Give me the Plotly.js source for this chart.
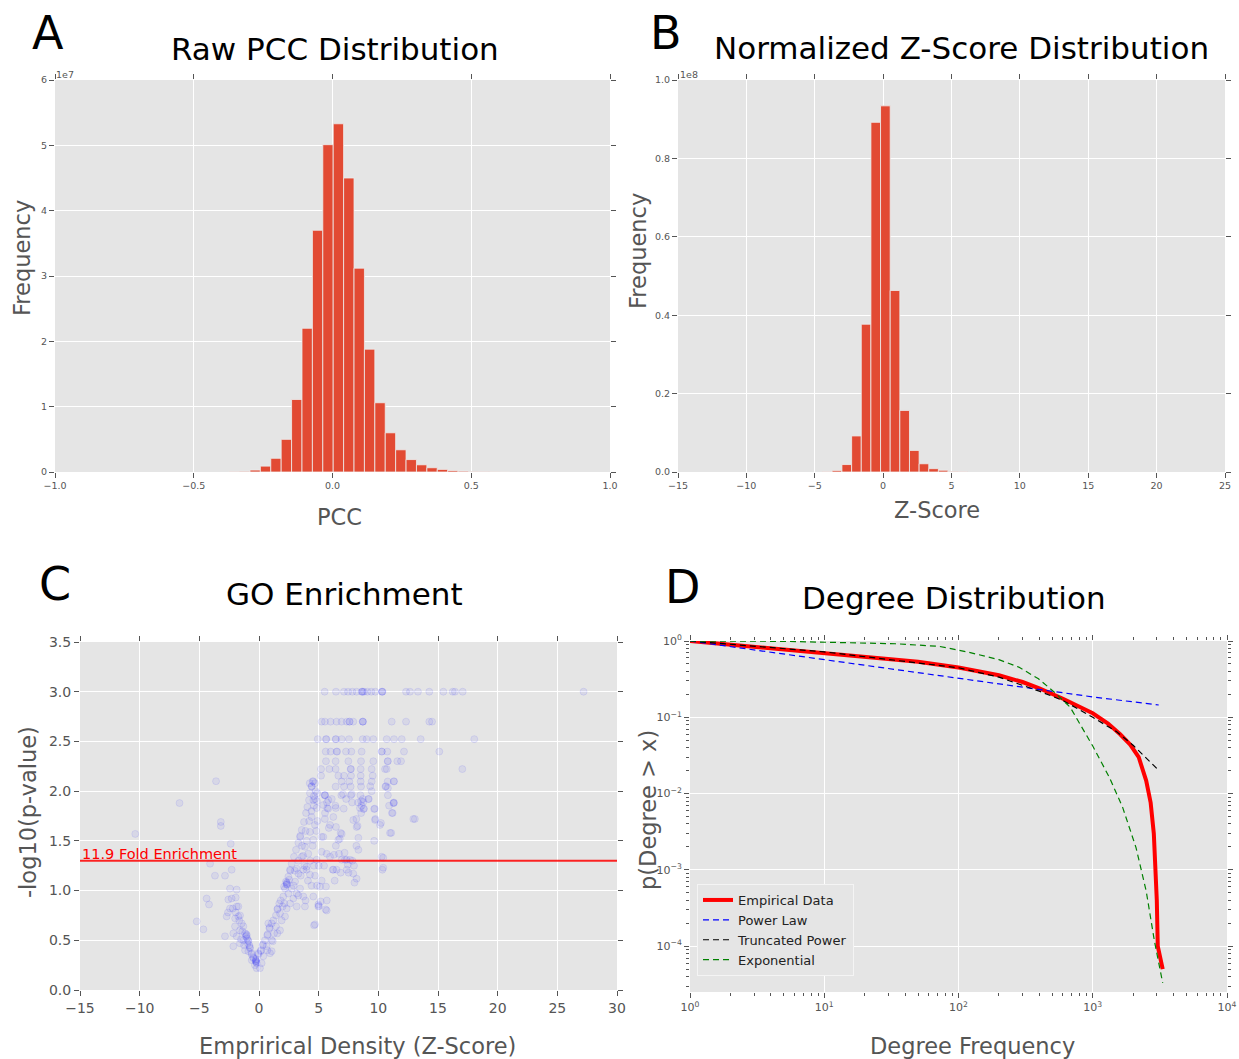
<!DOCTYPE html>
<html><head><meta charset="utf-8">
<script src="https://cdn.plot.ly/plotly-3.0.1.min.js"></script>
<style>html,body{margin:0;padding:0;background:#fff;}#chart{width:1239px;height:1059px;}</style>
</head><body><div id="chart"></div>
<script>
// ---------- Panel A: raw PCC histogram (frequency in units of 1e7) ----------
const pccCenters = [-0.3537,-0.3162,-0.2787,-0.2412,-0.2037,-0.1662,-0.1287,-0.0912,-0.0537,-0.0162,0.0213,0.0588,0.0963,0.1338,0.1713,0.2088,0.2463,0.2838,0.3213,0.3588,0.3963,0.4338,0.4713,0.5088,0.5463,0.5838,0.6213];
const pccFreq = [0.004,0.01,0.03,0.09,0.21,0.5,1.11,2.2,3.7,5.01,5.33,4.5,3.12,1.88,1.06,0.6,0.34,0.19,0.11,0.065,0.04,0.022,0.013,0.008,0.004,0.002,0.001];
const pccBinWidth = 0.0375;

// ---------- Panel B: Z-score histogram (frequency in units of 1e8) ----------
const zCenters = [-4.08,-3.38,-2.66,-1.95,-1.245,-0.54,0.165,0.87,1.575,2.28,2.985,3.69,4.395,5.1,5.8];
const zFreq = [0.001,0.004,0.019,0.092,0.377,0.892,0.934,0.463,0.157,0.055,0.021,0.0085,0.0045,0.0015,0.0007];
const zBinWidth = 0.705;

// ---------- Panel C: GO enrichment scatter [z-score, -log10(p)] ----------
const goPoints = [
 // p = 0.001 row
 [5.5,3.0],[6.45,3.0],[7.12,3.0],[7.46,3.0],[7.82,3.0],[8.18,3.0],[8.6,3.0],[8.65,3.0],[8.7,3.0],[8.8,3.0],[9.08,3.0],[9.41,3.0],[9.75,3.0],[10.31,3.0],[10.31,3.0],[10.35,3.0],[12.32,3.0],[12.65,3.0],[13.32,3.0],[14.27,3.0],[15.45,3.0],[16.23,3.0],[16.42,3.0],[17.07,3.0],[27.2,3.0],
 // p = 0.002
 [5.25,2.699],[5.53,2.699],[6.0,2.699],[6.5,2.699],[6.92,2.699],[7.35,2.699],[7.57,2.699],[7.6,2.699],[7.9,2.699],[8.69,2.699],[8.69,2.699],[8.72,2.699],[11.12,2.699],[12.32,2.699],[14.27,2.699],[14.5,2.699],
 // p = 0.003
 [4.92,2.523],[5.61,2.523],[5.65,2.523],[6.42,2.523],[6.45,2.523],[6.93,2.523],[7.54,2.523],[8.69,2.523],[9.02,2.523],[9.58,2.523],[10.7,2.523],[11.31,2.523],[11.96,2.523],[13.55,2.523],[18.04,2.523],
 // p = 0.004
 [5.59,2.398],[6.0,2.398],[6.5,2.398],[6.55,2.398],[7.29,2.398],[7.74,2.398],[8.6,2.398],[10.28,2.398],[10.3,2.398],[10.75,2.398],[12.15,2.398],[15.11,2.398],
 // p = 0.005
 [5.61,2.301],[6.42,2.301],[7.49,2.301],[8.55,2.301],[9.58,2.301],[10.78,2.301],[10.8,2.301],[11.59,2.301],[11.9,2.301],
 // p = 0.006
 [5.2,2.222],[5.9,2.222],[6.42,2.222],[7.68,2.222],[7.7,2.222],[8.52,2.222],[9.44,2.222],[10.56,2.222],[10.7,2.222],[17.04,2.222],
 // p = 0.007 .. 0.015
 [5.2,2.155],[6.65,2.155],[7.12,2.155],[7.71,2.155],[8.52,2.155],[9.53,2.155],
 [4.55,2.097],[6.93,2.097],[7.57,2.097],[8.52,2.097],[9.44,2.097],[10.78,2.097],[11.31,2.097],
 [4.41,2.046],[6.42,2.046],[7.12,2.046],[7.68,2.046],[8.55,2.046],[10.6,2.046],
 [5.5,1.959],[5.52,1.959],[5.55,1.959],[6.9,1.959],[7.7,1.959],[8.5,1.959],[10.8,1.959],
 [4.7,1.921],[6.1,1.921],[7.3,1.921],[8.7,1.921],[9.2,1.921],
 [5.7,1.886],[7.8,1.886],[8.3,1.886],[11.3,1.886],
 [4.6,1.854],[6.4,1.854],[8.6,1.854],[10.9,1.854],
 [5.8,1.824],[7.1,1.824],[8.8,1.824],[9.7,1.824],
 // right arm (dense)
 [-0.25,0.29],[-0.25,0.29],[-0.27,0.3],[-0.23,0.28],[-0.25,0.31],[-0.2,0.27],
 [-0.06,0.37],[-0.04,0.36],[0.14,0.39],[0.16,0.4],[0.31,0.45],[0.33,0.46],[0.5,0.5],[0.7,0.55],[0.72,0.56],
 [0.87,0.62],[0.89,0.63],[1.06,0.67],[1.2,0.7],[1.42,0.75],[1.54,0.81],[1.56,0.82],[1.7,0.87],[1.82,0.9],
 [2.04,0.94],[2.18,1.02],[2.32,1.07],[2.34,1.08],[2.3,1.06],[2.46,1.14],[2.6,1.21],[2.62,1.2],[2.74,1.27],
 [2.93,1.34],[3.1,1.41],[3.3,1.48],[3.44,1.54],[3.46,1.55],[3.58,1.61],[3.77,1.69],[3.94,1.78],[4.05,1.84],
 [4.19,1.91],[4.27,1.98],[4.41,2.05],[4.5,2.1],
 [2.26,1.09],[2.37,1.06],[2.1,1.04],[2.54,1.11],
 [0.64,0.44],[0.92,0.37],[1.06,0.5],[1.26,0.57],[0.78,0.67],[1.42,0.64],[1.76,0.6],[1.9,0.7],[2.18,0.74],
 [2.32,0.82],[2.6,0.87],[2.88,0.92],[3.16,0.97],[3.44,1.02],[2.46,0.97],[2.74,1.02],[3.02,1.09],[3.3,1.17],
 [3.72,1.21],[3.99,1.24],[3.58,1.34],[4.13,1.37],[3.85,1.44],[4.55,1.51],[4.27,1.59],[4.69,1.66],[4.41,1.74],
 [4.83,1.83],[4.55,1.91],[4.89,1.98],[4.69,2.08],[1.76,0.77],[1.98,0.84],[2.12,0.87],[3.16,0.84],[3.72,0.94],
 [3.85,0.84],[4.55,0.94],[4.61,0.65],[4.97,0.86],[5.11,1.04],[3.16,1.22],[4.27,1.16],[5.25,1.39],[4.83,1.31],
 [5.67,1.37],[5.39,1.54],[3.99,1.21],[1.54,0.57],[1.15,0.49],[0.7,0.4],[0.36,0.34],[0.22,0.27],[0.08,0.22],[1.06,0.39],
 [3.6,1.45],[3.9,1.6],[4.2,1.7],[4.4,1.8],[4.6,1.95],[4.0,1.5],[3.3,1.3],[3.7,1.35],[4.5,1.45],[4.8,1.6],
 [4.9,1.7],[3.8,1.25],[4.3,1.3],[4.6,1.25],[4.1,1.1],[3.5,1.15],[3.0,1.2],[2.9,1.05],[3.3,0.95],[3.9,0.9],
 [4.4,1.05],[4.7,1.15],[5.0,1.25],[4.75,2.0],[4.85,1.9],[4.25,2.08],
 // left arm
 [-0.47,0.32],[-0.49,0.33],[-0.61,0.37],[-0.63,0.36],[-0.75,0.42],[-0.77,0.43],[-0.89,0.49],[-0.91,0.5],
 [-1.03,0.55],[-1.05,0.56],[-1.17,0.57],[-1.31,0.5],[-1.59,0.47],[-1.87,0.54],[-2.15,0.44],[-2.01,0.64],
 [-1.73,0.74],[-1.59,0.75],[-1.87,0.84],[-2.43,0.82],[-2.71,0.74],[-2.57,0.91],[-2.29,0.92],[-1.87,1.01],
 [-2.43,1.02],[-2.85,1.15],[-3.69,1.15],[-2.29,1.21],[-4.1,1.27],[-2.37,1.47],[-3.2,1.69],[-3.2,1.65],
 [-3.6,2.1],[-4.39,0.92],[-4.19,0.86],[-5.22,0.69],[-4.66,0.61],[-2.85,0.54],[-2.15,0.57],[-1.45,0.67],
 [-1.31,0.64],[-1.59,0.6],[-0.89,0.39],[-0.34,0.25],[-0.2,0.22],[-0.61,0.3],[-1.17,0.4],[-1.73,0.84],
 [-1.0,0.52],[-0.95,0.47],[-1.1,0.54],[-0.8,0.45],[-1.4,0.59],[-1.65,0.7],[-1.95,0.78],[-2.2,0.82],
 [-2.0,0.72],[-1.5,0.51],[-1.25,0.45],[-2.6,0.78],[-1.95,0.93],
 [-10.37,1.57],[-6.66,1.88],
 // scatter to the right of the arm
 [4.85,1.05],[5.02,0.845],[5.58,0.81],[5.68,0.9],[4.69,0.66],[5.25,1.1],[5.45,1.25],[6.28,1.36],[6.44,1.45],
 [6.77,1.52],[6.84,1.58],[5.85,1.63],[5.52,1.72],[5.72,1.83],[6.44,1.83],[7.04,1.97],[7.77,1.97],
 [8.56,1.9],[8.76,1.82],[8.56,1.78],[8.16,1.72],[8.26,1.65],[8.33,1.41],[7.17,1.38],[7.34,1.31],[7.44,1.26],
 [6.84,1.18],[6.34,1.1],[6.18,1.21],[8.0,1.08],[7.5,1.18],[9.65,1.5],[9.65,1.82],[9.75,1.72],[10.22,1.68],
 [10.41,1.33],[10.41,1.23],[11.08,1.58],[11.14,1.78],[11.3,1.88],[11.3,2.1],[10.8,2.03],[10.64,2.05],
 [13.06,1.72],[9.16,1.92],[9.32,2.05],[8.33,1.53],[8.16,1.45],[7.83,1.3],
 [5.25,1.54],[5.95,1.66],[6.23,1.74],[6.65,1.51],[6.93,1.57],[5.53,1.78],[5.39,1.86],[5.81,1.91],[6.45,1.64],
 [7.9,1.71],[8.18,1.64],[8.46,1.83],[8.74,1.89],[9.44,2.0],[9.72,1.71],[10.14,1.66],[10.98,1.58],[11.26,1.88],
 [11.2,1.78],[12.93,1.72],[10.28,1.34],[10.34,1.21],[7.9,1.17],[8.18,1.12],[7.35,1.21],[6.93,1.31],[6.5,1.21],
 [6.23,1.21],[5.95,1.34],[5.61,1.04],[5.67,0.8],[4.97,0.84],[5.17,0.89],[7.2,1.31],[7.63,1.31],[7.96,1.25],[6.7,1.37]
];
const enrichThreshold = 1.301;
const enrichLabel = '11.9 Fold Enrichment';

// ---------- Panel D: degree distribution (CCDF) ----------
const empDegree = [1,2,5,10,20,50,100,200,300,400,600,800,1000,1300,1600,1900,2200,2500,2700,2850,2950,3000,3050,3320];
const empP      = [1,0.895,0.79,0.70,0.63,0.535,0.45,0.355,0.29,0.24,0.175,0.138,0.113,0.083,0.06,0.044,0.030,0.0148,0.0076,0.0030,0.001,0.0004,0.0001,0.00005];
const powDegree = [1,10,100,1000,3100];
const powP      = [1,0.57,0.32,0.185,0.145];
const truncDegree = [1,10,100,200,400,600,1000,1500,2000,2500,3080];
const truncP      = [1,0.72,0.446,0.336,0.22,0.166,0.1,0.065,0.043,0.0297,0.0204];
const expDegree = [1,5,34,72,116,200,281,394,517,678,1000,1330,1670,2100,2500,2880,3320];
const expP      = [1,0.99,0.92,0.85,0.72,0.57,0.455,0.32,0.214,0.136,0.042,0.0163,0.0066,0.00196,0.00053,0.000117,0.000033];

const logTickVals = [1,10,100,1000,10000];
const logTickText = ['10<sup>0</sup>','10<sup>1</sup>','10<sup>2</sup>','10<sup>3</sup>','10<sup>4</sup>'];
const pTickVals = [0.0001,0.001,0.01,0.1,1];
const pTickText = ['10<sup>\u22124</sup>','10<sup>\u22123</sup>','10<sup>\u22122</sup>','10<sup>\u22121</sup>','10<sup>0</sup>'];

// ---------- layout helpers ----------
const W = 1239, H = 1059;
const FONT = 'DejaVu Sans, Verdana, sans-serif';
const PX = v => v / W;
const PY = v => 1 - v / H;
const BAR = '#E24A33';

const baseAxis = {
  showgrid: true, gridcolor: '#FFFFFF', gridwidth: 1, zeroline: false, showline: false,
  ticks: 'outside', ticklen: 5, tickwidth: 1, tickcolor: '#555555', mirror: 'ticks',
  tickfont: {family: FONT, size: 9.5, color: '#555555'}, fixedrange: true
};

const traces = [
  {type: 'bar', x: pccCenters, y: pccFreq, width: pccBinWidth, xaxis: 'x', yaxis: 'y',
   marker: {color: BAR, line: {color: '#EEEEEE', width: 0.8}}, showlegend: false, hoverinfo: 'x+y'},
  {type: 'bar', x: zCenters, y: zFreq, width: zBinWidth, xaxis: 'x2', yaxis: 'y2',
   marker: {color: BAR, line: {color: '#EEEEEE', width: 0.8}}, showlegend: false, hoverinfo: 'x+y'},
  {type: 'scatter', mode: 'markers', x: goPoints.map(p => p[0]), y: goPoints.map(p => p[1]),
   xaxis: 'x3', yaxis: 'y3', showlegend: false,
   marker: {size: 7, color: 'rgba(0,0,255,0.06)', line: {color: 'rgba(0,0,255,0.08)', width: 1}}},
  {type: 'scatter', mode: 'lines', name: 'Empirical Data', x: empDegree, y: empP, xaxis: 'x4', yaxis: 'y4',
   line: {color: '#FF0000', width: 4}},
  {type: 'scatter', mode: 'lines', name: 'Power Law', x: powDegree, y: powP, xaxis: 'x4', yaxis: 'y4',
   line: {color: '#0000FF', width: 1.2, dash: '6px,4px'}},
  {type: 'scatter', mode: 'lines', name: 'Truncated Power', x: truncDegree, y: truncP, xaxis: 'x4', yaxis: 'y4',
   line: {color: '#000000', width: 1.2, dash: '6px,4px'}},
  {type: 'scatter', mode: 'lines', name: 'Exponential', x: expDegree, y: expP, xaxis: 'x4', yaxis: 'y4',
   line: {color: '#008000', width: 1.2, dash: '6px,4px'}}
];

function ann(text, x, y, size, opts) {
  return Object.assign({text: text, x: PX(x), y: PY(y), xref: 'paper', yref: 'paper',
    xanchor: 'center', yanchor: 'middle', showarrow: false,
    font: {family: FONT, size: size, color: '#000000'}}, opts || {});
}
const LAB = '#555555';

const layout = {
  width: W, height: H, margin: {l: 0, r: 0, t: 0, b: 0},
  paper_bgcolor: '#FFFFFF', plot_bgcolor: '#E5E5E5', bargap: 0,
  font: {family: FONT},
  xaxis: Object.assign({}, baseAxis, {domain: [PX(55), PX(610)], range: [-1, 1], dtick: 0.5, tick0: 0, tickformat: '.1f', anchor: 'y'}),
  yaxis: Object.assign({}, baseAxis, {domain: [PY(472), PY(80)], range: [0, 6], dtick: 1, tick0: 0, anchor: 'x'}),
  xaxis2: Object.assign({}, baseAxis, {domain: [PX(678), PX(1225)], range: [-15, 25], dtick: 5, tick0: 0, anchor: 'y2'}),
  yaxis2: Object.assign({}, baseAxis, {domain: [PY(472), PY(80)], range: [0, 1.0], dtick: 0.2, tick0: 0, tickformat: '.1f', anchor: 'x2'}),
  xaxis3: Object.assign({}, baseAxis, {domain: [PX(80), PX(617)], range: [-15, 30], dtick: 5, tick0: 0, anchor: 'y3',
    tickfont: {family: FONT, size: 14, color: LAB}}),
  yaxis3: Object.assign({}, baseAxis, {domain: [PY(990), PY(642)], range: [0, 3.5], dtick: 0.5, tick0: 0, tickformat: '.1f', anchor: 'x3',
    tickfont: {family: FONT, size: 14, color: LAB}}),
  xaxis4: Object.assign({}, baseAxis, {domain: [PX(690), PX(1227)], type: 'log', range: [0, 4], anchor: 'y4',
    tickmode: 'array', tickvals: logTickVals, ticktext: logTickText, tickfont: {family: FONT, size: 11, color: LAB},
    minor: {ticks: 'outside', ticklen: 3, tickcolor: '#555555', dtick: 'D1', showgrid: false}}),
  yaxis4: Object.assign({}, baseAxis, {domain: [PY(992), PY(641)], type: 'log', range: [-4.6, 0], anchor: 'x4',
    tickmode: 'array', tickvals: pTickVals, ticktext: pTickText, tickfont: {family: FONT, size: 11, color: LAB},
    minor: {ticks: 'outside', ticklen: 3, tickcolor: '#555555', dtick: 'D1', showgrid: false}}),
  legend: {x: PX(697), y: PY(884), xanchor: 'left', yanchor: 'top', bgcolor: '#E5E5E5',
    bordercolor: '#F4F4F4', borderwidth: 1, font: {family: FONT, size: 13, color: '#222222'},
    tracegroupgap: 0, itemwidth: 30},
  shapes: [
    {type: 'line', xref: 'x3 domain', yref: 'y3', x0: 0, x1: 1, y0: enrichThreshold, y1: enrichThreshold,
     line: {color: 'rgba(255,0,0,0.85)', width: 2}}
  ],
  annotations: [
    ann('A', 48, 33, 46), ann('B', 666, 33, 46), ann('C', 55, 584, 46), ann('D', 682, 587, 46),
    ann('Raw PCC Distribution', 335, 49, 31),
    ann('Normalized Z-Score Distribution', 961, 48, 31),
    ann('GO Enrichment', 344, 594, 31),
    ann('Degree Distribution', 954, 598, 31),
    ann('Frequency', 22, 258, 22.5, {textangle: -90, font: {family: FONT, size: 22.5, color: LAB}}),
    ann('PCC', 339, 517, 22.5, {font: {family: FONT, size: 22.5, color: LAB}}),
    ann('Frequency', 638, 251, 22.5, {textangle: -90, font: {family: FONT, size: 22.5, color: LAB}}),
    ann('Z-Score', 937, 510, 22.5, {font: {family: FONT, size: 22.5, color: LAB}}),
    ann('-log10(p-value)', 28, 812, 22.5, {textangle: -90, font: {family: FONT, size: 22.5, color: LAB}}),
    ann('Emprirical Density (Z-Score)', 357, 1046, 22.5, {font: {family: FONT, size: 22.5, color: LAB}}),
    ann('p(Degree &gt; x)', 648, 810, 22.5, {textangle: -90, font: {family: FONT, size: 22.5, color: LAB}}),
    ann('Degree Frequency', 972, 1046, 22.5, {font: {family: FONT, size: 22.5, color: LAB}}),
    ann('1e7', 54, 74, 9.5, {xanchor: 'left', font: {family: FONT, size: 9.5, color: LAB}}),
    ann('1e8', 678, 74, 9.5, {xanchor: 'left', font: {family: FONT, size: 9.5, color: LAB}}),
    {text: enrichLabel, xref: 'x3', yref: 'y3', x: -15, y: enrichThreshold, xanchor: 'left', yanchor: 'bottom',
     yshift: -3, showarrow: false, font: {family: FONT, size: 14.5, color: '#FF0000'}}
  ]
};

Plotly.newPlot('chart', traces, layout, {displayModeBar: false, staticPlot: true});
</script></body></html>
